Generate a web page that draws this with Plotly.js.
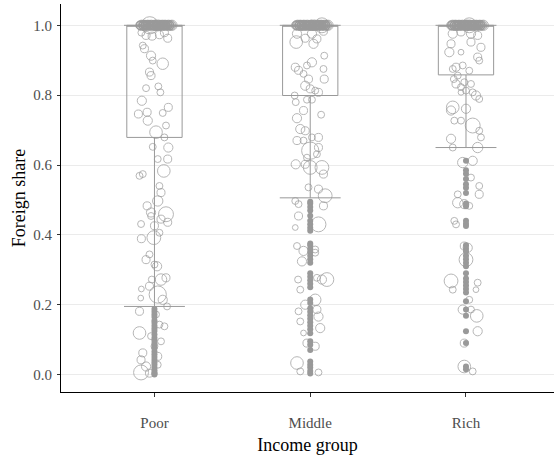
<!DOCTYPE html>
<html><head><meta charset="utf-8">
<script src="https://cdn.plot.ly/plotly-3.0.1.min.js"></script>
<style>html,body{margin:0;padding:0;background:#fff}#chart{width:554px;height:459px}</style>
</head><body><div id="chart"></div>
<script>
const categories = ['Poor', 'Middle', 'Rich'];

// Box statistics
const q1Vals = [0.679, 0.799, 0.858];
const medianVals = [1.0, 1.0, 1.0];
const q3Vals = [1.0, 1.0, 1.0];
const lowerFence = [0.195, 0.506, 0.650];
const upperFence = [1.0, 1.0, 1.0];

// Points sitting exactly at share 1.0: horizontal jitter offset, share, weight
const poorTopJitter = [-0.094,-0.088,-0.083,-0.079,-0.074,-0.070,-0.065,-0.061,-0.056,-0.052,-0.047,-0.043,-0.039,-0.034,-0.030,-0.025,-0.021,-0.016,-0.012,-0.008,-0.003,0.001,0.006,0.010,0.015,0.019,0.024,0.028,0.032,0.037,0.041,0.046,0.050,0.055,0.059,0.063,0.068,0.072,0.077,0.081,0.086,0.090,0.094,0.099,0.103,0.108,0.112,-0.090,-0.067,-0.045,-0.023,-0.001,0.021,0.044,0.066,0.088,-0.058,0.005,0.070,-0.030,
 -0.085,-0.076,-0.063,-0.051,-0.040,-0.028,-0.018,-0.006,0.004,0.013,0.025,0.036,0.047,0.057,0.066,0.078,0.087,0.097,0.106,-0.036];
const poorTopShare = [1,1,1,1,1,1,1,1,1,1,1,1,1,1,1,1,1,1,1,1,1,1,1,1,1,1,1,1,1,1,1,1,1,1,1,1,1,1,1,1,1,1,1,1,1,1,1,1,1,1,1,1,1,1,1,1,1,1,1,1,
 1,1,1,1,1,1,1,1,1,1,1,1,1,1,1,1,1,1,1,1];
const poorTopWeight = [7,8,9,8,7,8,9,7,8,8,7,9,8,7,8,8,9,7,8,8,7,8,9,8,7,7,8,9,7,8,8,7,9,8,7,8,9,7,8,8,7,9,8,7,8,8,9,7,8,8,7,8,9,8,7,7,8,9,7,15,
 5,4,6,5,4,5,6,4,5,5,4,6,5,4,5,6,4,5,5,4];

const middleTopJitter = [-0.091,-0.086,-0.081,-0.077,-0.072,-0.068,-0.063,-0.059,-0.054,-0.050,-0.045,-0.041,-0.037,-0.032,-0.028,-0.023,-0.019,-0.014,-0.010,-0.006,-0.001,0.003,0.008,0.012,0.017,0.021,0.026,0.030,0.034,0.039,0.043,0.048,0.052,0.057,0.061,0.065,0.070,0.074,0.079,0.083,0.088,0.092,0.096,0.101,0.105,0.110,0.114,-0.088,-0.065,-0.043,-0.021,0.001,0.023,0.046,0.068,0.090,-0.056,0.007,0.072,0.075,
 -0.083,-0.074,-0.061,-0.049,-0.038,-0.026,-0.016,-0.004,0.006,0.015,0.027,0.038,0.049,0.059,0.068,0.080,0.089,0.099,0.108,-0.034];
const middleTopShare = [1,1,1,1,1,1,1,1,1,1,1,1,1,1,1,1,1,1,1,1,1,1,1,1,1,1,1,1,1,1,1,1,1,1,1,1,1,1,1,1,1,1,1,1,1,1,1,1,1,1,1,1,1,1,1,1,1,1,1,1,
 1,1,1,1,1,1,1,1,1,1,1,1,1,1,1,1,1,1,1,1];
const middleTopWeight = [8,7,9,8,7,8,9,7,8,8,7,9,8,7,8,8,9,7,8,8,7,8,9,8,7,7,8,9,7,8,8,7,9,8,7,8,9,7,8,8,7,9,8,7,8,8,9,7,8,8,7,8,9,8,7,7,8,9,7,13,
 5,4,6,5,4,5,6,4,5,5,4,6,5,4,5,6,4,5,5,4];

const richTopJitter = [-0.095,-0.090,-0.085,-0.081,-0.076,-0.072,-0.067,-0.063,-0.058,-0.054,-0.049,-0.045,-0.041,-0.036,-0.032,-0.027,-0.023,-0.018,-0.014,-0.010,-0.005,-0.001,0.004,0.008,0.013,0.017,0.022,0.026,0.030,0.035,0.039,0.044,0.048,0.053,0.057,0.061,0.066,0.070,0.075,0.079,0.084,0.088,0.092,0.097,0.101,0.106,0.111,-0.092,-0.069,-0.047,-0.025,-0.003,0.019,0.042,0.064,0.086,-0.060,0.003,0.068,0.021,
 -0.087,-0.078,-0.065,-0.053,-0.042,-0.030,-0.020,-0.008,0.002,0.011,0.023,0.034,0.045,0.055,0.064,0.076,0.085,0.095,0.104,-0.038];
const richTopShare = [1,1,1,1,1,1,1,1,1,1,1,1,1,1,1,1,1,1,1,1,1,1,1,1,1,1,1,1,1,1,1,1,1,1,1,1,1,1,1,1,1,1,1,1,1,1,1,1,1,1,1,1,1,1,1,1,1,1,1,1,
 1,1,1,1,1,1,1,1,1,1,1,1,1,1,1,1,1,1,1,1];
const richTopWeight = [8,7,9,8,7,8,9,7,8,8,7,9,8,7,8,8,9,7,8,8,7,8,9,8,7,7,8,9,7,8,8,7,9,8,7,8,9,7,8,8,7,9,8,7,8,8,9,7,8,8,7,8,9,8,7,7,8,9,7,13,
 5,4,6,5,4,5,6,4,5,5,4,6,5,4,5,6,4,5,5,4];

// Remaining jittered points: horizontal jitter offset, foreign share, point weight
const poorJitter = [
 -0.084,-0.054,-0.015,0.032,0.085,0.064,-0.075,-0.064,-0.022,-0.011,
 0.053,-0.032,-0.022,-0.054,0.025,0.038,-0.081,0.089,-0.103,-0.047,
 -0.043,0.053,0.074,0.010,0.064,-0.011,0.089,0.021,0.085,0.060,
 -0.096,-0.075,0.032,0.042,0.021,-0.047,-0.022,0.074,-0.086,0.000,
 -0.022,0.042,0.032,-0.004,-0.084,0.085,-0.032,-0.054,0.000,0.017,
 0.074,0.042,-0.017,-0.032,-0.084,-0.088,0.021,0.053,0.081,-0.096,
 0.032,0.064,-0.096,0.042,-0.075,-0.086,-0.054,0.021,-0.086,-0.032,
 0.010,0.000,0.021,-0.022];
const poorShare = [
 0.979,0.971,0.969,0.973,0.963,0.979,0.942,0.933,0.913,0.899,
 0.890,0.866,0.856,0.820,0.825,0.808,0.784,0.765,0.746,0.751,
 0.727,0.749,0.713,0.694,0.679,0.652,0.650,0.617,0.617,0.583,
 0.569,0.574,0.540,0.521,0.497,0.483,0.464,0.459,0.431,0.426,
 0.454,0.445,0.406,0.392,0.389,0.436,0.344,0.329,0.315,0.310,
 0.277,0.272,0.272,0.253,0.245,0.219,0.229,0.214,0.195,0.181,
 0.143,0.138,0.119,0.095,0.062,0.042,0.023,0.028,0.006,0.004,
 0.172,0.081,0.052,0.110];
const poorWeight = [
 6,7,7,7,7,7,6,7,8,6,
 10,7,7,6,6,6,8,7,7,7,
 8,6,6,11,6,6,8,6,7,11,
 6,6,6,7,9,7,8,13,6,7,
 6,7,6,12,7,7,6,7,6,8,
 7,10,6,7,5,5,15,8,6,7,
 6,6,11,6,7,7,8,6,13,7,
 6,6,7,6];

const middleJitter = [
 -0.085,0.011,0.085,-0.090,-0.032,0.021,0.043,0.090,-0.096,-0.075,
 -0.021,0.011,0.085,-0.043,-0.011,0.090,-0.032,0.000,0.053,0.032,
 -0.100,-0.021,0.011,-0.093,-0.043,0.070,-0.085,-0.064,-0.032,0.053,
 -0.085,-0.043,0.011,0.000,0.053,0.043,-0.093,-0.021,-0.032,0.000,
 0.075,0.085,-0.011,0.053,0.096,-0.096,-0.075,0.085,-0.075,0.053,
 -0.096,-0.085,-0.043,0.032,-0.053,0.032,-0.078,-0.064,0.075,0.107,
 0.043,0.032,-0.032,-0.075,0.053,0.043,-0.064,0.064,-0.043,-0.021,
 0.032,-0.085,-0.064,0.053];
const middleShare = [
 0.976,0.976,0.983,0.952,0.963,0.947,0.961,0.913,0.880,0.871,
 0.885,0.894,0.875,0.861,0.846,0.846,0.827,0.818,0.808,0.813,
 0.799,0.787,0.787,0.780,0.756,0.744,0.734,0.703,0.698,0.679,
 0.670,0.670,0.679,0.641,0.650,0.631,0.602,0.621,0.602,0.593,
 0.593,0.574,0.536,0.531,0.512,0.497,0.488,0.483,0.454,0.430,
 0.421,0.368,0.354,0.358,0.324,0.349,0.272,0.243,0.272,0.272,
 0.277,0.214,0.200,0.181,0.166,0.186,0.152,0.133,0.119,0.090,
 0.081,0.033,0.009,0.006];
const middleWeight = [
 8,8,7,11,7,8,7,6,7,7,
 6,8,6,6,7,7,8,7,7,6,
 6,6,6,6,7,6,8,8,7,7,
 7,6,6,15,7,6,8,6,7,12,
 12,7,6,7,12,6,6,7,7,13,
 5,6,8,6,8,6,6,6,8,12,
 6,10,8,6,8,7,6,8,5,7,
 7,11,6,6];

const richJitter = [
 -0.085,-0.032,0.032,0.075,-0.096,-0.107,-0.032,0.032,0.096,0.075,
 0.085,-0.085,-0.064,0.021,-0.021,-0.078,-0.053,-0.064,-0.011,0.032,
 -0.032,-0.032,0.000,0.043,0.064,0.085,-0.085,-0.096,0.000,-0.075,
 -0.032,0.043,0.085,0.096,-0.096,-0.085,0.075,-0.021,0.043,0.032,
 0.085,0.085,-0.053,-0.053,-0.011,0.021,-0.075,-0.064,-0.011,0.011,
 0.000,-0.096,-0.085,0.075,0.064,0.021,-0.021,0.032,0.075,-0.011,
 -0.011,0.043,0.069];
const richShare = [
 0.976,0.981,0.976,0.971,0.947,0.923,0.923,0.952,0.937,0.909,
 0.899,0.875,0.880,0.870,0.885,0.846,0.856,0.832,0.837,0.832,
 0.823,0.808,0.813,0.808,0.799,0.789,0.765,0.756,0.761,0.727,
 0.727,0.713,0.698,0.679,0.675,0.650,0.650,0.607,0.612,0.564,
 0.540,0.516,0.516,0.492,0.488,0.483,0.440,0.430,0.368,0.363,
 0.329,0.268,0.243,0.263,0.243,0.214,0.186,0.186,0.124,0.090,
 0.023,0.009,0.168];
const richWeight = [
 8,7,8,7,7,8,5,7,7,7,
 6,6,7,6,6,6,6,7,6,6,
 6,5,6,6,8,6,11,8,8,6,
 6,13,6,6,8,6,9,9,8,6,
 6,7,6,9,8,6,6,6,7,8,
 12,12,6,6,5,6,8,6,8,7,
 11,6,11];

// Boxplot outliers (drawn at the category centre)
const poorOutliers = [0.188,0.180,0.172,0.165,0.155,0.148,0.140,0.132,0.125,0.115,0.105,0.098,0.090,0.082,0.075,0.066,0.058,0.050,0.042,0.035,0.028,0.020,0.012,0.006,0.002,0.000];
const middleOutliers = [0.495,0.490,0.480,0.470,0.455,0.440,0.430,0.420,0.412,0.375,0.370,0.360,0.350,0.340,0.330,0.320,0.290,0.280,0.270,0.260,0.250,0.215,0.205,0.190,0.180,0.170,0.160,0.150,0.140,0.130,0.118,0.095,0.085,0.070,0.037,0.028,0.020,0.010,0.003];
const richOutliers = [0.612,0.585,0.575,0.560,0.545,0.535,0.520,0.490,0.482,0.440,0.432,0.425,0.370,0.360,0.352,0.340,0.330,0.320,0.310,0.290,0.275,0.265,0.255,0.245,0.235,0.210,0.186,0.168,0.124,0.090,0.023,0.015];

const GREY = '#999999';
const positions = categories.map((c, i) => i + 1);
const jitters = [poorTopJitter.concat(poorJitter), middleTopJitter.concat(middleJitter), richTopJitter.concat(richJitter)];
const shares = [poorTopShare.concat(poorShare), middleTopShare.concat(middleShare), richTopShare.concat(richShare)];
const weights = [poorTopWeight.concat(poorWeight), middleTopWeight.concat(middleWeight), richTopWeight.concat(richWeight)];
const outliers = [poorOutliers, middleOutliers, richOutliers];

const traces = [];
traces.push({
  type: 'box', x: positions,
  q1: q1Vals, median: medianVals, q3: q3Vals,
  lowerfence: lowerFence, upperfence: upperFence,
  boxpoints: false, width: 0.355, whiskerwidth: 0,
  fillcolor: 'rgba(0,0,0,0)', line: {color: GREY, width: 1},
  hoverinfo: 'skip', showlegend: false
});
traces.push({
  type: 'scatter', mode: 'markers',
  x: positions.concat(positions), y: lowerFence.concat(upperFence),
  marker: {symbol: 'line-ew', size: 43.5, color: GREY, line: {color: GREY, width: 1}},
  hoverinfo: 'skip', showlegend: false
});
categories.forEach((c, i) => {
  traces.push({
    type: 'scatter', mode: 'markers', name: c + ' outliers',
    x: outliers[i].map(() => positions[i]), y: outliers[i],
    marker: {size: 6, color: GREY, line: {width: 0}},
    hoverinfo: 'y', showlegend: false
  });
});
categories.forEach((c, i) => {
  traces.push({
    type: 'scatter', mode: 'markers', name: c,
    x: jitters[i].map(d => positions[i] + d), y: shares[i],
    marker: {size: weights[i], sizemode: 'diameter', sizeref: 0.87, color: 'rgba(0,0,0,0)', line: {color: GREY, width: 1}},
    hoverinfo: 'y', showlegend: false
  });
});

const FONT = '"Liberation Serif", "Times New Roman", Times, serif';
const layout = {
  width: 554, height: 459,
  margin: {l: 61, r: 0, t: 4, b: 67},
  paper_bgcolor: '#ffffff', plot_bgcolor: '#ffffff',
  showlegend: false,
  font: {family: FONT, color: '#4d4d4d', size: 15},
  xaxis: {
    range: [0.4, 3.565], tickvals: positions, ticktext: categories,
    showgrid: false, zeroline: false, showline: true, linecolor: '#000', linewidth: 1,
    ticks: 'outside', ticklen: 4, tickcolor: '#333', tickwidth: 1,
    tickfont: {family: FONT, size: 15, color: '#4d4d4d'}, ticklabelstandoff: 13,
    title: {text: 'Income group', font: {family: FONT, size: 18, color: '#000'}, standoff: 8}
  },
  yaxis: {
    range: [-0.05, 1.061], tickvals: [0, 0.2, 0.4, 0.6, 0.8, 1.0], tickformat: '.1f',
    showgrid: true, gridcolor: '#ebebeb', gridwidth: 1, zeroline: false,
    showline: true, linecolor: '#000', linewidth: 1,
    ticks: 'outside', ticklen: 3, tickcolor: '#333', tickwidth: 1,
    tickfont: {family: FONT, size: 15, color: '#4d4d4d'}, ticklabelstandoff: 2,
    title: {text: 'Foreign share', font: {family: FONT, size: 18, color: '#000'}, standoff: 2}
  }
};
Plotly.newPlot('chart', traces, layout, {staticPlot: true, displayModeBar: false});
</script>
</body></html>
